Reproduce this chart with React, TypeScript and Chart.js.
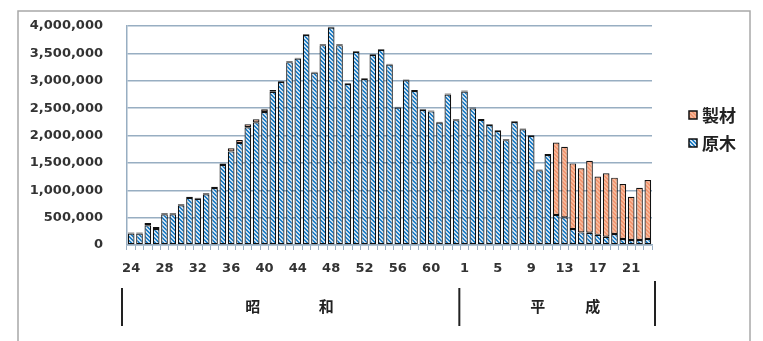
import React, { useEffect, useRef } from 'react';
import { Chart, registerables } from 'chart.js';

Chart.register(...registerables);

// Showa 24–63, Heisei 1–23
const categories = [
  '24', '25', '26', '27', '28', '29', '30', '31', '32', '33',
  '34', '35', '36', '37', '38', '39', '40', '41', '42', '43',
  '44', '45', '46', '47', '48', '49', '50', '51', '52', '53',
  '54', '55', '56', '57', '58', '59', '60', '61', '62', '63',
  '1', '2', '3', '4', '5', '6', '7', '8', '9', '10',
  '11', '12', '13', '14', '15', '16', '17', '18', '19', '20',
  '21', '22', '23',
];

// 原木 (logs)
const genboku = [
  210000, 210000, 360000, 290000, 560000, 560000, 725000, 860000, 845000, 925000,
  1040000, 1460000, 1710000, 1865000, 2150000, 2240000, 2430000, 2800000, 2980000, 3340000,
  3405000, 3835000, 3150000, 3650000, 3970000, 3650000, 2940000, 3530000, 3030000, 3470000,
  3565000, 3295000, 2510000, 3010000, 2815000, 2465000, 2440000, 2235000, 2750000, 2280000,
  2805000, 2495000, 2285000, 2190000, 2080000, 1915000, 2245000, 2115000, 1995000, 1365000,
  1645000, 550000, 505000, 290000, 230000, 225000, 185000, 150000, 200000, 110000,
  90000, 90000, 110000,
];

// 製材 (lumber)
const seizai = [
  20000, 20000, 40000, 40000, 20000, 20000, 20000, 20000, 20000, 20000,
  25000, 30000, 55000, 55000, 55000, 55000, 50000, 30000, 15000, 15000,
  15000, 15000, 15000, 15000, 15000, 15000, 15000, 15000, 15000, 15000,
  15000, 15000, 15000, 15000, 15000, 15000, 15000, 15000, 15000, 15000,
  15000, 15000, 15000, 15000, 15000, 15000, 15000, 15000, 15000, 15000,
  15000, 1320000, 1290000, 1200000, 1170000, 1315000, 1065000, 1160000, 1030000, 1005000,
  790000, 955000, 1075000,
];

const seriesNames = ['原木', '製材'];
const legendOrder = ['製材', '原木'];
const eraShowa = ['昭', '和'];
const eraHeisei = ['平', '成'];

function makePattern(fg: string, bg: string, size = 4): CanvasPattern | string {
  const c = document.createElement('canvas');
  c.width = size;
  c.height = size;
  const g = c.getContext('2d');
  if (!g) return fg;
  for (let y = 0; y < size; y++) {
    for (let x = 0; x < size; x++) {
      const d = (((x - y) % size) + size) % size;
      g.fillStyle = d < 2 ? fg : bg;
      g.fillRect(x, y, 1, 1);
    }
  }
  const p = g.createPattern(c, 'repeat');
  return p || fg;
}

export default function App() {
  const ref = useRef<HTMLCanvasElement | null>(null);

  useEffect(() => {
    if (!ref.current) return;
    const bluePat = makePattern('#1F7FC6', '#CFE2F3');
    const orangePat = makePattern('#F29670', '#F7B899');
    const gridColor = '#98AEC2';

    const overlay = {
      id: 'overlay',
      beforeDraw(chart: any) {
        const ctx = chart.ctx;
        ctx.save();
        ctx.fillStyle = '#FFFFFF';
        ctx.fillRect(0, 0, chart.width, chart.height);
        ctx.strokeStyle = '#A8A8A8';
        ctx.lineWidth = 1.5;
        ctx.strokeRect(18, 11, 732, 400);
        ctx.restore();
      },
      afterDraw(chart: any) {
        const ctx = chart.ctx;
        const xs = chart.scales.x;
        ctx.save();
        // era separators
        ctx.strokeStyle = '#222222';
        ctx.lineWidth = 2;
        const xl = xs.left - 5;
        const xm = xs.getPixelForValue(39.5) - 1;
        const xr = xs.right + 3;
        ctx.beginPath();
        ctx.moveTo(xl, 288); ctx.lineTo(xl, 326);
        ctx.moveTo(xm, 288); ctx.lineTo(xm, 326);
        ctx.moveTo(xr, 281); ctx.lineTo(xr, 326);
        ctx.stroke();
        // era text
        ctx.fillStyle = '#222222';
        ctx.font = 'bold 15px "Noto Sans CJK JP"';
        ctx.textAlign = 'center';
        ctx.textBaseline = 'middle';
        ctx.fillText(eraShowa[0], xs.getPixelForValue(14.6), 306);
        ctx.fillText(eraShowa[1], xs.getPixelForValue(23.4), 306);
        ctx.fillText(eraHeisei[0], xs.getPixelForValue(48.8), 306);
        ctx.fillText(eraHeisei[1], xs.getPixelForValue(55.4), 306);
        // legend
        const items = [
          { name: legendOrder[0], fill: orangePat, y: 115 },
          { name: legendOrder[1], fill: bluePat, y: 143 },
        ];
        ctx.textAlign = 'left';
        ctx.font = 'bold 17px "Noto Sans CJK JP"';
        items.forEach((it) => {
          ctx.fillStyle = it.fill as any;
          ctx.fillRect(689, it.y - 4, 8, 8);
          ctx.strokeStyle = '#111111';
          ctx.lineWidth = 1.5;
          ctx.strokeRect(689, it.y - 4, 8, 8);
          ctx.fillStyle = '#222222';
          ctx.fillText(it.name, 702, it.y + 1);
        });
        ctx.restore();
      },
    };

    const common = {
      borderColor: '#111111',
      borderWidth: 1.2,
      borderSkipped: false,
      stack: 's',
      categoryPercentage: 1,
      barPercentage: 0.8,
    };

    const chart = new Chart(ref.current, {
      type: 'bar',
      data: {
        labels: categories,
        datasets: [
          { ...common, label: seriesNames[0], data: genboku, backgroundColor: bluePat as any },
          { ...common, label: seriesNames[1], data: seizai, backgroundColor: orangePat as any },
        ] as any,
      },
      options: {
        responsive: false,
        animation: false,
        devicePixelRatio: 1,
        layout: { padding: { top: 26, right: 111, bottom: 0, left: 0 } },
        plugins: {
          legend: { display: false },
          tooltip: { enabled: false },
          title: { display: false },
        },
        scales: {
          x: {
            stacked: true,
            afterFit: (s: any) => {
              s.height = 96;
              s.paddingLeft = 0;
              s.paddingRight = 0;
            },
            grid: {
              display: true,
              drawOnChartArea: false,
              drawTicks: true,
              tickLength: 5,
              color: gridColor,
              offset: true,
            },
            border: { display: true, color: gridColor, width: 1.5 },
            ticks: {
              autoSkip: false,
              maxRotation: 0,
              minRotation: 0,
              padding: 11,
              color: '#333333',
              font: { family: '"DejaVu Sans"', size: 13, weight: 'bold' },
              callback: (_v: any, i: number) => (i % 4 === 0 ? categories[i] : ''),
            },
          },
          y: {
            stacked: true,
            min: 0,
            max: 4000000,
            afterFit: (s: any) => {
              s.width = 127;
              s.paddingTop = 0;
              s.paddingBottom = 0;
            },
            grid: { color: gridColor, lineWidth: 1.5, drawTicks: false },
            border: { display: true, color: gridColor, width: 1.5 },
            ticks: {
              stepSize: 500000,
              padding: 24,
              color: '#333333',
              font: { family: '"DejaVu Sans"', size: 13, weight: 'bold' },
              callback: (v: any) => Number(v).toLocaleString('en-US'),
            },
          },
        },
      },
      plugins: [overlay],
    });
    return () => chart.destroy();
  }, []);

  return (
    <canvas
      ref={ref}
      width={763}
      height={341}
      style={{ position: 'fixed', left: 0, top: 0, width: 763, height: 341 }}
    />
  );
}
